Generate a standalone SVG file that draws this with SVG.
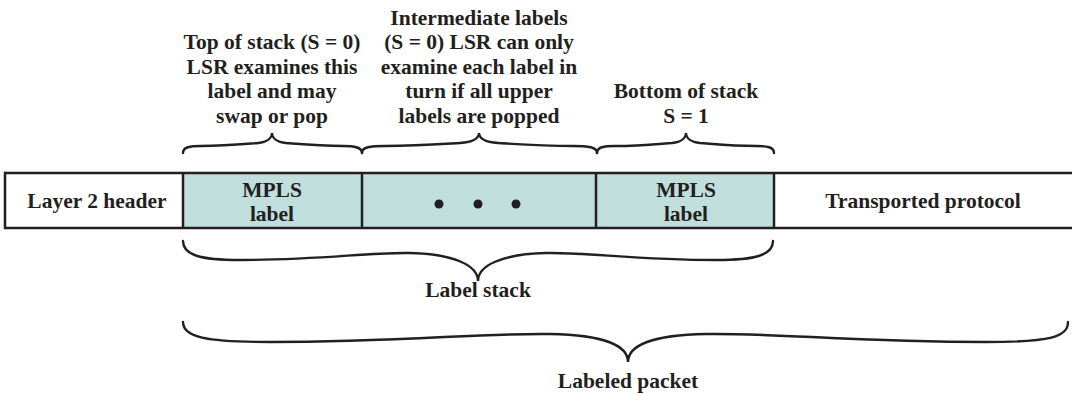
<svg xmlns="http://www.w3.org/2000/svg" width="1072" height="395" viewBox="0 0 1072 395">
<style>
text{font-family:'Liberation Serif','DejaVu Serif',serif;font-weight:700;font-size:21.5px;fill:#231f20;text-anchor:middle}
.br{fill:none;stroke:#231f20;stroke-width:2.4;stroke-linecap:round}
.cell{stroke:#231f20;stroke-width:2.5}
</style>
<rect width="1072" height="395" fill="#ffffff"/>
<g id="packet">
  <rect x="183" y="173" width="591" height="55" fill="#bfdedc"/>
  <line class="cell" x1="5" y1="173" x2="1072" y2="173"/>
  <line class="cell" x1="5" y1="228" x2="1072" y2="228"/>
  <line class="cell" x1="5" y1="171.8" x2="5" y2="229.2"/>
</g>
<g id="layer2">
  <text x="97" y="208" font-family="Liberation Serif">Layer 2 header</text>
</g>
<g id="mpls1">
  <line class="cell" x1="183" y1="173" x2="183" y2="228"/>
  <text x="272" y="197" font-family="Liberation Serif">MPLS</text>
  <text x="272" y="221" font-family="Liberation Serif">label</text>
</g>
<g id="intermediate">
  <line class="cell" x1="362" y1="173" x2="362" y2="228"/>
  <circle cx="439" cy="204" r="4.5" fill="#231f20"/>
  <circle cx="478" cy="204" r="4.5" fill="#231f20"/>
  <circle cx="516" cy="204" r="4.5" fill="#231f20"/>
</g>
<g id="mpls2">
  <line class="cell" x1="596" y1="173" x2="596" y2="228"/>
  <text x="686" y="197" font-family="Liberation Serif">MPLS</text>
  <text x="686" y="221" font-family="Liberation Serif">label</text>
</g>
<g id="transported">
  <line class="cell" x1="774" y1="173" x2="774" y2="228"/>
  <text x="923" y="208" font-family="Liberation Serif">Transported protocol</text>
</g>
<g id="top-label">
  <text x="272" y="49" font-family="Liberation Serif">Top of stack (S = 0)</text>
  <text x="272" y="73.5" font-family="Liberation Serif">LSR examines this</text>
  <text x="272" y="98" font-family="Liberation Serif">label and may</text>
  <text x="272" y="122.5" font-family="Liberation Serif">swap or pop</text>
</g>
<g id="intermediate-label">
  <text x="479" y="24.5" font-family="Liberation Serif">Intermediate labels</text>
  <text x="479" y="49" font-family="Liberation Serif">(S = 0) LSR can only</text>
  <text x="479" y="73.5" font-family="Liberation Serif">examine each label in</text>
  <text x="479" y="98" font-family="Liberation Serif">turn if all upper</text>
  <text x="479" y="122.5" font-family="Liberation Serif">labels are popped</text>
</g>
<g id="bottom-label">
  <text x="686" y="98" font-family="Liberation Serif">Bottom of stack</text>
  <text x="686" y="122.5" font-family="Liberation Serif">S = 1</text>
</g>
<g id="label-stack">
  <text x="478" y="297" font-family="Liberation Serif">Label stack</text>
</g>
<g id="labeled-packet">
  <text x="628" y="388" font-family="Liberation Serif">Labeled packet</text>
</g>
<g id="connectors">
  <path class="br" d="M183,153 C183,147 190,146 201,146 C225,146 245,144 258,143 C267,142 272,138 272,133 C272,138 277,142 286,143 C299,144 319,146 343,146 C354,146 362,147 362,153"/>
  <path class="br" d="M362,153 C362,147 370,146 385,146 C418,146 443,144 460,143 C473,142 479,138 479,133 C479,138 485,142 498,143 C515,144 540,146 573,146 C588,146 597,147 597,153"/>
  <path class="br" d="M597,153 C597,147 604,146 615,146 C640,146 658,144 672,143 C681,142 686,138 686,133 C686,138 691,142 700,143 C714,144 732,146 756,146 C767,146 774,147 774,153"/>
  <path class="br" d="M183,241 C183,255 200,260 240,260 C320,260 370,252 410,253 C455,254 478,266 478,281 C478,266 501,254 546,253 C586,252 636,260 716,260 C756,260 773,255 773,241"/>
  <path class="br" d="M183,322 C183,337 205,342 270,342 C400,342 480,333 550,334 C605,335 628,346 628,362 C628,346 651,335 706,334 C776,333 856,342 986,342 C1051,342 1068,337 1068,322"/>
</g>
</svg>
